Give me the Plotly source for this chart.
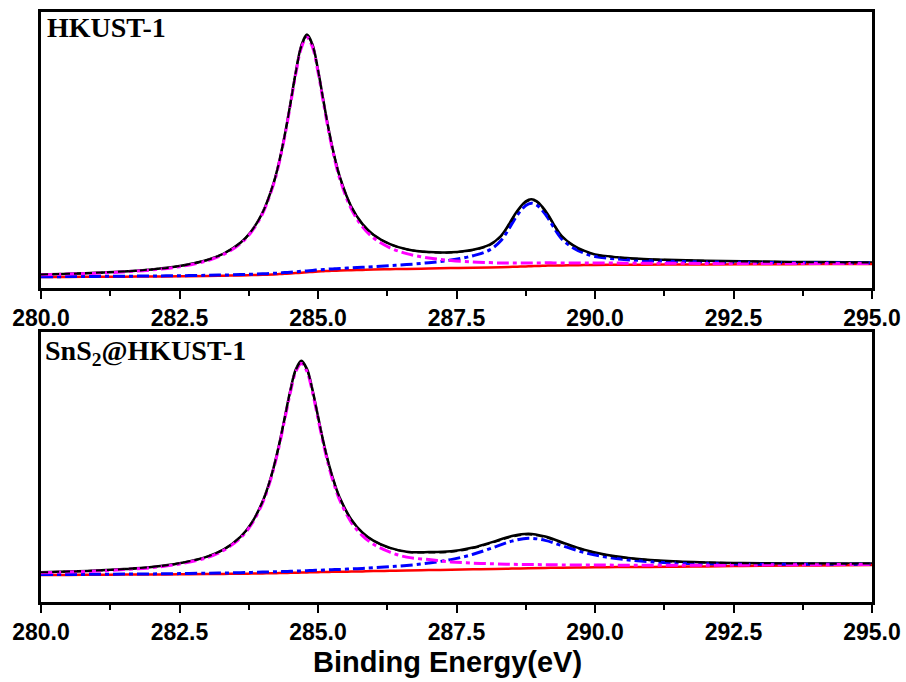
import plotly.graph_objects as go

# ---------------- Panel 1: HKUST-1 ----------------
x1 = [280.0, 280.5, 281.0, 281.5, 282.0, 282.5, 283.0, 283.3, 283.6, 283.8,
      284.0, 284.2, 284.3, 284.4, 284.5, 284.6, 284.7, 284.8, 284.9, 285.0,
      285.1, 285.2, 285.3, 285.4, 285.6, 285.8, 286.0, 286.3, 286.6, 287.0,
      287.4, 287.8, 288.1, 288.3, 288.45, 288.55, 288.65, 288.75, 288.85, 288.95,
      289.05, 289.15, 289.25, 289.4, 289.6, 289.8, 290.0, 290.4, 290.8, 291.3,
      292.0, 293.0, 294.0, 295.0]
bg1 = [11.0, 11.1, 11.2, 11.3, 11.5, 11.7, 12.0, 12.3, 12.6, 12.9,
       13.2, 13.6, 13.9, 14.2, 14.5, 14.9, 15.3, 15.7, 16.1, 16.5,
       16.8, 17.1, 17.3, 17.5, 17.8, 18.1, 18.4, 18.8, 19.1, 19.5,
       19.9, 20.3, 20.6, 20.8, 21.0, 21.2, 21.4, 21.6, 21.8, 22.0,
       22.2, 22.4, 22.5, 22.6, 22.8, 22.9, 23.0, 23.2, 23.3, 23.5,
       23.6, 23.8, 23.9, 24.0]
cc1 = [13.3, 13.9, 14.8, 16.1, 18.1, 21.3, 27.3, 33.7, 44.4, 56.2,
       74.5, 104.1, 125.4, 151.7, 182.5, 214.5, 240.3, 250.7, 241.1, 216.1,
       184.8, 154.6, 128.8, 108.0, 79.1, 61.4, 50.2, 40.2, 34.4, 30.0,
       27.5, 26.0, 25.4, 25.0, 24.9, 24.9, 24.9, 25.0, 25.0, 25.1,
       25.1, 25.2, 25.1, 25.1, 25.1, 25.0, 24.9, 24.9, 24.8, 24.8,
       24.6, 24.6, 24.5, 24.5]
oc1 = [11.3, 11.4, 11.6, 11.8, 12.0, 12.3, 12.7, 13.0, 13.4, 13.8,
       14.2, 14.7, 15.0, 15.4, 15.7, 16.2, 16.7, 17.1, 17.6, 18.1,
       18.5, 18.9, 19.2, 19.5, 20.1, 20.7, 21.4, 22.4, 23.4, 25.3,
       27.9, 32.3, 38.1, 47.3, 59.5, 68.9, 76.7, 82.5, 84.8, 82.9,
       77.5, 70.1, 61.0, 49.1, 40.3, 34.9, 31.5, 29.0, 27.6, 26.8,
       26.1, 25.5, 25.2, 25.0]
fit1 = [13.6, 14.2, 15.2, 16.5, 18.6, 21.9, 28.0, 34.5, 45.2, 57.1,
        75.5, 105.2, 126.5, 152.9, 183.7, 215.8, 241.7, 252.1, 242.6, 217.7,
        186.5, 156.4, 130.7, 110.0, 81.4, 64.0, 53.2, 43.8, 38.7, 35.8,
        35.5, 38.0, 42.9, 51.5, 63.4, 72.6, 80.2, 85.9, 88.0, 86.0,
        80.4, 72.9, 63.7, 51.6, 42.6, 37.0, 33.4, 30.7, 29.1, 28.1,
        27.1, 26.3, 25.8, 25.5]
raw1 = [13.6, 14.2, 15.2, 16.5, 18.6, 21.9, 28.0, 34.5, 45.2, 57.1,
        75.5, 105.2, 126.5, 152.9, 183.9, 216.3, 242.6, 253.4, 243.6, 218.2,
        186.7, 156.5, 130.8, 110.1, 81.5, 64.1, 53.3, 43.9, 38.8, 35.9,
        35.7, 38.3, 43.3, 52.0, 64.0, 73.3, 81.0, 86.7, 88.8, 86.8,
        81.1, 73.5, 64.2, 52.0, 43.0, 37.3, 33.6, 30.8, 29.2, 28.2,
        27.2, 26.4, 25.9, 25.6]

# ---------------- Panel 2: SnS2@HKUST-1 ----------------
x2 = [280.0, 280.5, 281.0, 281.5, 282.0, 282.5, 283.0, 283.3, 283.6, 283.8,
      284.0, 284.1, 284.2, 284.3, 284.4, 284.5, 284.6, 284.7, 284.8, 284.9,
      285.0, 285.1, 285.2, 285.3, 285.4, 285.6, 285.8, 286.0, 286.3, 286.6,
      287.0, 287.4, 287.8, 288.2, 288.5, 288.8, 289.1, 289.4, 289.8, 290.2,
      290.6, 291.0, 291.5, 292.0, 292.5, 293.0, 294.0, 295.0]
bg2 = [27.0, 27.1, 27.2, 27.4, 27.5, 27.7, 27.9, 28.1, 28.2, 28.4,
       28.6, 28.7, 28.8, 28.9, 29.0, 29.2, 29.3, 29.4, 29.6, 29.7,
       29.8, 30.0, 30.1, 30.2, 30.3, 30.4, 30.6, 30.9, 31.2, 31.4,
       31.9, 32.3, 32.7, 33.1, 33.4, 33.8, 34.1, 34.3, 34.6, 34.8,
       35.0, 35.1, 35.3, 35.6, 35.9, 36.2, 36.6, 37.0]
cc2 = [29.3, 30.0, 30.9, 32.4, 34.4, 38.0, 44.5, 51.7, 64.0, 77.7,
       99.2, 114.4, 133.3, 156.3, 182.7, 209.4, 230.3, 238.4, 230.6, 209.9,
       183.5, 157.4, 134.6, 115.9, 100.9, 79.7, 66.4, 57.8, 49.8, 44.9,
       42.4, 40.1, 38.9, 38.1, 37.7, 37.5, 37.3, 37.1, 37.0, 36.9,
       36.8, 36.7, 36.7, 36.8, 36.9, 37.1, 37.3, 37.6]
oc2 = [27.4, 27.5, 27.7, 27.9, 28.1, 28.4, 28.8, 29.0, 29.3, 29.6,
       29.9, 30.0, 30.2, 30.3, 30.5, 30.7, 30.9, 31.1, 31.3, 31.6,
       31.7, 32.0, 32.2, 32.4, 32.6, 33.1, 33.6, 34.3, 35.3, 36.5,
       39.0, 42.4, 47.7, 55.2, 60.9, 63.8, 61.6, 56.4, 49.6, 44.9,
       42.1, 40.2, 38.9, 38.3, 37.9, 37.8, 37.7, 37.8]
fit2 = [29.7, 30.4, 31.4, 32.9, 35.0, 38.7, 45.4, 52.6, 65.1, 78.9,
        100.5, 115.7, 134.7, 157.7, 184.2, 210.9, 231.9, 240.1, 232.3, 211.8,
        185.4, 159.4, 136.7, 118.1, 103.2, 82.4, 69.4, 61.2, 53.9, 50.0,
        49.5, 50.2, 53.9, 60.2, 65.2, 67.5, 64.8, 59.2, 52.0, 47.0,
        43.9, 41.8, 40.3, 39.5, 38.9, 38.7, 38.4, 38.4]
raw2 = [29.7, 30.4, 31.4, 32.9, 35.0, 38.7, 45.4, 52.6, 65.1, 78.9,
        100.5, 115.7, 134.7, 157.9, 184.6, 211.5, 232.8, 241.2, 233.2, 212.3,
        185.7, 159.6, 136.9, 118.3, 103.4, 82.6, 69.6, 61.4, 54.1, 50.3,
        49.9, 50.7, 54.5, 60.9, 66.0, 68.3, 65.5, 59.8, 52.4, 47.3,
        44.1, 42.0, 40.4, 39.6, 39.0, 38.8, 38.5, 38.5]

tick_vals = [280.0, 282.5, 285.0, 287.5, 290.0, 292.5, 295.0]
tick_text = ["280.0", "282.5", "285.0", "287.5", "290.0", "292.5", "295.0"]
panel_labels = ["HKUST-1", "SnS<sub>2</sub>@HKUST-1"]
x_title = "Binding Energy(eV)"

fig = go.Figure()


def add_panel(x, raw, bg, comp2, comp1, fit, xa, ya):
    common = dict(x=x, xaxis=xa, yaxis=ya, mode="lines", line_shape="spline",
                  hoverinfo="skip", showlegend=False)
    fig.add_trace(go.Scatter(y=raw, line=dict(color="black", width=2.5), **common))
    fig.add_trace(go.Scatter(y=bg, line=dict(color="#ff0000", width=2.5), **common))
    fig.add_trace(go.Scatter(y=comp2, line=dict(color="#0000ff", width=3,
                                                dash="12px,4px,4px,4px"), **common))
    fig.add_trace(go.Scatter(y=comp1, line=dict(color="#ff00ff", width=3,
                                                dash="12px,4px,4px,4px"), **common))
    fig.add_trace(go.Scatter(y=fit, line=dict(color="black", width=2,
                                              dash="7px,4px"), **common))


add_panel(x1, raw1, bg1, oc1, cc1, fit1, "x", "y")
add_panel(x2, raw2, bg2, oc2, cc2, fit2, "x2", "y2")

xax = dict(range=[280, 295], showline=True, mirror=True, linecolor="black",
           linewidth=2.5, showgrid=False, zeroline=False, automargin=False,
           tickmode="array", tickvals=tick_vals, ticktext=tick_text,
           ticks="outside", ticklen=8, tickwidth=2, tickcolor="black",
           tickfont=dict(family="Liberation Sans, Arial, sans-serif", size=23,
                         color="black", weight="bold"),
           minor=dict(ticks="outside", ticklen=5, tickwidth=2, tickcolor="black",
                      dtick=1.25, tick0=280, showgrid=False))
yax = dict(showline=True, mirror=True, linecolor="black", linewidth=2.5,
           showgrid=False, zeroline=False, showticklabels=False, ticks="",
           automargin=False)

fig.update_layout(
    width=906, height=682,
    margin=dict(l=41, r=34, t=12, b=80, autoexpand=False),
    paper_bgcolor="white", plot_bgcolor="white",
    showlegend=False,
    xaxis=dict(anchor="y", domain=[0, 1], **xax),
    yaxis=dict(anchor="x", domain=[0.5322, 1.0], range=[0, 276], **yax),
    xaxis2=dict(anchor="y2", domain=[0, 1], **xax),
    yaxis2=dict(anchor="x2", domain=[0.0, 0.4576], range=[0, 270], **yax),
)

label_font = dict(family="Liberation Serif, Times New Roman, serif", size=28,
                  color="black")
fig.add_annotation(text="<b>" + panel_labels[0] + "</b>", xref="x domain",
                   yref="y domain", x=0.005, y=0.944, xanchor="left",
                   yanchor="middle", showarrow=False, font=label_font)
fig.add_annotation(text="<b>" + panel_labels[1] + "</b>", xref="x2 domain",
                   yref="y2 domain", x=0.003, y=0.925, xanchor="left",
                   yanchor="middle", showarrow=False, font=label_font)
fig.add_annotation(text="<b>" + x_title + "</b>", xref="paper", yref="paper",
                   x=0.489, y=-0.1017, xanchor="center", yanchor="middle",
                   showarrow=False,
                   font=dict(family="Liberation Sans, Arial, sans-serif",
                             size=29, color="black"))

fig.write_html("out.html")
